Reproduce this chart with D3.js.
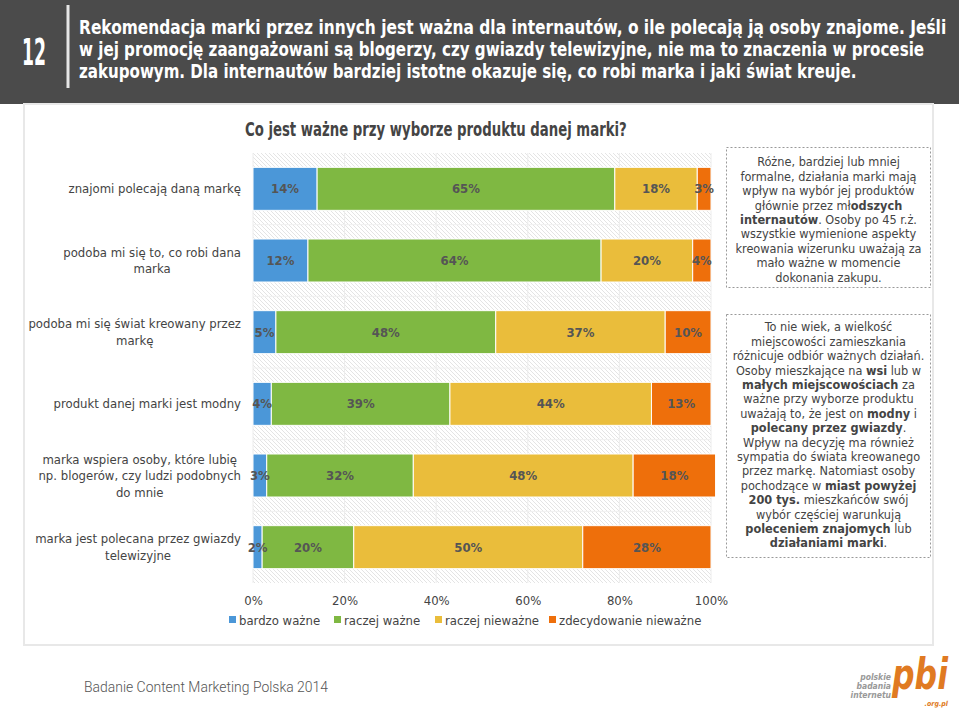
<!DOCTYPE html>
<html><head><meta charset="utf-8">
<script src="https://cdn.jsdelivr.net/npm/d3@7"></script>
<style>body{margin:0;background:#fff}svg{display:block}</style>
</head><body>
<svg id="c" width="959" height="709"></svg>
<script>
// ---------------- data ----------------
const categories = [
  "znajomi polecają daną markę",
  "podoba mi się to, co robi dana marka",
  "podoba mi się świat kreowany przez markę",
  "produkt danej marki jest modny",
  "marka wspiera osoby, które lubię np. blogerów, czy ludzi podobnych do mnie",
  "marka jest polecana przez gwiazdy telewizyjne"
];
const categoryLines = [
  ["znajomi polecają daną markę"],
  ["podoba mi się to, co robi dana", "marka"],
  ["podoba mi się świat kreowany przez", "markę"],
  ["produkt danej marki jest modny"],
  ["marka wspiera osoby, które lubię", "np. blogerów, czy ludzi podobnych", "do mnie"],
  ["marka jest polecana przez gwiazdy", "telewizyjne"]
];
const seriesNames = ["bardzo ważne", "raczej ważne", "raczej nieważne", "zdecydowanie nieważne"];
const bardzoWazne = [14, 12, 5, 4, 3, 2];
const raczejWazne = [65, 64, 48, 39, 32, 20];
const raczejNiewazne = [18, 20, 37, 44, 48, 50];
const zdecydowanieNiewazne = [3, 4, 10, 13, 18, 28];
const tickValues = [0, 20, 40, 60, 80, 100];

const headerLines = [
  "Rekomendacja marki przez innych jest ważna dla internautów, o ile polecają ją osoby znajome. Jeśli",
  "w jej promocję zaangażowani są blogerzy, czy gwiazdy telewizyjne, nie ma to znaczenia w procesie",
  "zakupowym. Dla internautów bardziej istotne okazuje się, co robi marka i jaki świat kreuje."
];
const chartTitle = "Co jest ważne przy wyborze produktu danej marki?";
const note1 = [
  [["Różne, bardziej lub mniej", 0]],
  [["formalne, działania marki mają", 0]],
  [["wpływ na wybór jej produktów", 0]],
  [["głównie przez mł", 0], ["odszych", 1]],
  [["internautów", 1], [". Osoby po 45 r.ż.", 0]],
  [["wszystkie wymienione aspekty", 0]],
  [["kreowania wizerunku uważają za", 0]],
  [["mało ważne w momencie", 0]],
  [["dokonania zakupu.", 0]]
];
const note2 = [
  [["To nie wiek, a wielkość", 0]],
  [["miejscowości zamieszkania", 0]],
  [["różnicuje odbiór ważnych działań.", 0]],
  [["Osoby mieszkające na ", 0], ["wsi", 1], [" lub w", 0]],
  [["małych miejscowościach", 1], [" za", 0]],
  [["ważne przy wyborze produktu", 0]],
  [["uważają to, że jest on ", 0], ["modny", 1], [" i", 0]],
  [["polecany przez gwiazdy", 1], [".", 0]],
  [["Wpływ na decyzję ma również", 0]],
  [["sympatia do świata kreowanego", 0]],
  [["przez markę. Natomiast osoby", 0]],
  [["pochodzące w ", 0], ["miast powyżej", 1]],
  [["200 tys.", 1], [" mieszkańców swój", 0]],
  [["wybór częściej warunkują", 0]],
  [["poleceniem znajomych", 1], [" lub", 0]],
  [["działaniami marki", 1], [".", 0]]
];
const colors = ["#4b97d8", "#7fb842", "#eabd3b", "#ee6f0b"];

// ---------------- drawing ----------------
const svg = d3.select("#c");
const sans = "'DejaVu Sans Condensed','DejaVu Sans',sans-serif";
const narrow = "'DejaVu Sans Condensed',sans-serif";

// text scaled to a target width (and vertical stretch) with a real transform
function fitText(parent, str, x0, base, size, targetW, sy, fill, anchor) {
  const t = parent.append("text").attr("x", 0).attr("y", 0)
    .attr("font-family", narrow).attr("font-weight", "bold").attr("font-size", size)
    .attr("fill", fill).attr("text-anchor", anchor || "start").text(str);
  const w = t.node().getComputedTextLength();
  t.attr("transform", `translate(${x0},${base}) scale(${targetW / w},${sy})`);
  return t;
}

// header
svg.append("rect").attr("x", 0).attr("y", 0).attr("width", 959).attr("height", 104).attr("fill", "#4b4b4b");
fitText(svg, "12", 34, 65, 26, 24, 1.4, "#fff", "middle");
svg.append("line").attr("x1", 68).attr("x2", 68).attr("y1", 5).attr("y2", 88).attr("stroke", "#e6e6e6").attr("stroke-width", 3);
const headerW = [868, 846, 778];
headerLines.forEach((t, i) => fitText(svg, t, 79, 34 + i * 21.8, 14, headerW[i], 1.45, "#fff"));

// panel
svg.append("rect").attr("x", 24).attr("y", 104).attr("width", 909).attr("height", 541)
  .attr("fill", "#fff").attr("stroke", "#e8e8e8").attr("stroke-width", 2);

// title
fitText(svg, chartTitle, 245, 136, 14, 382, 1.35, "#444");

// scales
const x = d3.scaleLinear().domain([0, 100]).range([253, 711]);
const y = d3.scaleBand().domain(categories).range([153, 583]).paddingInner(0.4).paddingOuter(0.2);

// hatch pattern
const defs = svg.append("defs");
const pat = defs.append("pattern").attr("id", "hatch").attr("patternUnits", "userSpaceOnUse")
  .attr("width", 4).attr("height", 4);
pat.append("rect").attr("width", 4).attr("height", 4).attr("fill", "#fff");
pat.append("path").attr("d", "M-1,-1 L5,5 M-1,3 L1,5 M3,-1 L5,1").attr("stroke", "#e4e4e4").attr("stroke-width", 1);
svg.append("rect").attr("x", x(0)).attr("y", 153).attr("width", x(100) - x(0)).attr("height", 430).attr("fill", "url(#hatch)");

// gridlines
svg.append("g").selectAll("line").data(tickValues).join("line")
  .attr("x1", d => x(d)).attr("x2", d => x(d)).attr("y1", 153).attr("y2", 583)
  .attr("stroke", "#ececec").attr("stroke-width", 1);
const bounds = d3.range(1, categories.length).map(i => y(categories[i]) - y.step() * y.paddingInner() / 2);
svg.append("g").selectAll("line").data(bounds).join("line")
  .attr("x1", x(0)).attr("x2", x(100)).attr("y1", d => d).attr("y2", d => d)
  .attr("stroke", "#f0f0f0").attr("stroke-width", 1);

// stacked bars
const rows = categories.map((c, i) => ({
  cat: c,
  [seriesNames[0]]: bardzoWazne[i],
  [seriesNames[1]]: raczejWazne[i],
  [seriesNames[2]]: raczejNiewazne[i],
  [seriesNames[3]]: zdecydowanieNiewazne[i]
}));
const stacked = d3.stack().keys(seriesNames)(rows);
const layers = svg.append("g").selectAll("g").data(stacked).join("g").attr("fill", (d, i) => colors[i]);
layers.selectAll("rect").data(d => d).join("rect")
  .attr("x", d => x(d[0])).attr("width", d => x(d[1]) - x(d[0]))
  .attr("y", d => y(d.data.cat)).attr("height", y.bandwidth())
  .attr("stroke", "#fff").attr("stroke-width", 1);
const labelG = svg.append("g");
stacked.forEach(layer => {
  layer.forEach(d => {
    labelG.append("text")
      .attr("x", x((d[0] + d[1]) / 2)).attr("y", y(d.data.cat) + y.bandwidth() / 2)
      .attr("dy", "0.35em").attr("text-anchor", "middle")
      .attr("font-family", sans).attr("font-weight", "bold").attr("font-size", 13)
      .attr("fill", "#555").text((d[1] - d[0]) + "%");
  });
});

// category labels
const catG = svg.append("g");
categories.forEach((c, i) => {
  const lines = categoryLines[i];
  const cy = y(c) + y.bandwidth() / 2;
  const g = catG.append("g");
  const texts = lines.map((l, j) => g.append("text")
    .attr("y", cy + (j - (lines.length - 1) / 2) * 16.5).attr("dy", "0.35em")
    .attr("text-anchor", "middle").attr("font-family", sans).attr("font-size", 13).attr("fill", "#444").text(l));
  const maxW = d3.max(texts, t => t.node().getComputedTextLength());
  texts.forEach(t => t.attr("x", 241 - maxW / 2));
});

// x axis
const axis = svg.append("g").attr("transform", "translate(0,583)")
  .call(d3.axisBottom(x).tickValues(tickValues).tickFormat(d => d + "%").tickSize(0).tickPadding(13));
axis.select(".domain").remove();
axis.selectAll("text").attr("font-family", sans).attr("font-size", 13).attr("fill", "#444");

// legend
const legendX = [229, 334, 435, 549];
const leg = svg.append("g");
seriesNames.forEach((s, i) => {
  leg.append("rect").attr("x", legendX[i]).attr("y", 616).attr("width", 7).attr("height", 7).attr("fill", colors[i]);
  leg.append("text").attr("x", legendX[i] + 10).attr("y", 620).attr("dy", "0.35em")
    .attr("font-family", sans).attr("font-size", 13).attr("fill", "#444").text(s);
});

// notes
function note(lines, bx, by, bw, bh, firstY) {
  svg.append("rect").attr("x", bx).attr("y", by).attr("width", bw).attr("height", bh)
    .attr("fill", "#fff").attr("stroke", "#999").attr("stroke-dasharray", "2,2");
  lines.forEach((parts, i) => {
    const t = svg.append("text").attr("x", bx + bw / 2).attr("y", firstY + i * 14.4).attr("dy", "0.35em")
      .attr("text-anchor", "middle").attr("font-family", sans).attr("font-size", 12.6).attr("fill", "#444");
    parts.forEach(p => t.append("tspan").attr("font-weight", p[1] ? "bold" : "normal").text(p[0]));
  });
}
note(note1, 726.5, 147.5, 204, 140, 162);
note(note2, 726.5, 314.5, 204, 243, 327);

// footer
svg.append("text").attr("x", 84).attr("y", 692)
  .attr("font-family", "Roboto,sans-serif").attr("font-weight", 300).attr("font-size", 15).attr("fill", "#555")
  .attr("textLength", 244).attr("lengthAdjust", "spacingAndGlyphs").text("Badanie Content Marketing Polska 2014");

// logo
const logo = svg.append("g");
[["polskie", 680], ["badania", 689], ["internetu", 698]].forEach(([t, yy]) => {
  logo.append("text").attr("x", 891).attr("y", yy).attr("text-anchor", "end")
    .attr("font-family", sans).attr("font-style", "italic").attr("font-weight", "bold").attr("font-size", 8.5).attr("fill", "#999").text(t);
});
const pbi = logo.append("text").attr("x", 0).attr("y", 0)
  .attr("font-family", narrow).attr("font-style", "italic").attr("font-weight", "bold").attr("font-size", 30).attr("fill", "#e07a22").text("pbi");
const pw = pbi.node().getComputedTextLength();
pbi.attr("transform", `translate(892,689) scale(${56 / pw},1.4)`);
logo.append("text").attr("x", 948).attr("y", 706).attr("text-anchor", "end")
  .attr("font-family", sans).attr("font-style", "italic").attr("font-weight", "bold").attr("font-size", 7).attr("fill", "#e07a22").text(".org.pl");
</script>
</body></html>
